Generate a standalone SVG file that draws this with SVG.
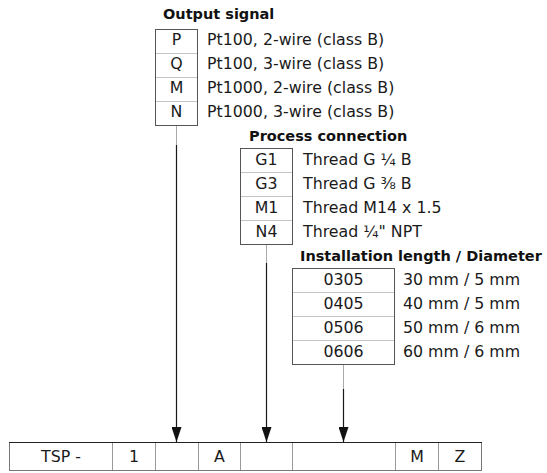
<svg xmlns="http://www.w3.org/2000/svg" width="547" height="473" viewBox="0 0 547 473">
<style>
.t{font-family:"DejaVu Sans","Liberation Sans",sans-serif;font-size:15.8px;fill:#1a1a1a}
.c{text-anchor:middle}
.h{font-family:"DejaVu Sans","Liberation Sans",sans-serif;font-size:14.5px;font-weight:bold;fill:#111}
.box{fill:#fff;stroke:#555;stroke-width:1}
.div{stroke:#c4c4c4;stroke-width:1}
.cell{stroke:#999;stroke-width:1}
.conn{stroke:#1a1a1a;stroke-width:1.2;fill:none}
.connl{stroke:#aaa;stroke-width:1;fill:none}
</style>
<defs>
<marker id="ah" markerWidth="15" markerHeight="10" refX="15" refY="5" orient="auto" markerUnits="userSpaceOnUse" viewBox="0 0 15 10">
<path d="M0,0 L15,5 L0,10 Z" fill="#111"/>
</marker>
</defs>
<rect width="547" height="473" fill="#fff"/>

<g id="output-signal">
<text class="h" x="163" y="19">Output signal</text>
<rect class="box" x="155.5" y="29.5" width="42" height="96"/>
<line class="div" x1="156" y1="53.5" x2="197" y2="53.5"/>
<line class="div" x1="156" y1="77.5" x2="197" y2="77.5"/>
<line class="div" x1="156" y1="101.5" x2="197" y2="101.5"/>
<text class="t c" x="176.5" y="45">P</text>
<text class="t c" x="176.5" y="69">Q</text>
<text class="t c" x="176.5" y="93">M</text>
<text class="t c" x="176.5" y="117">N</text>
<text class="t" x="207" y="45">Pt100, 2-wire (class B)</text>
<text class="t" x="207" y="69">Pt100, 3-wire (class B)</text>
<text class="t" x="207" y="93">Pt1000, 2-wire (class B)</text>
<text class="t" x="207" y="117">Pt1000, 3-wire (class B)</text>
</g>

<g id="process-connection">
<text class="h" x="249" y="140.5">Process connection</text>
<rect class="box" x="240.5" y="148.5" width="52" height="96"/>
<line class="div" x1="241" y1="172.5" x2="292" y2="172.5"/>
<line class="div" x1="241" y1="196.5" x2="292" y2="196.5"/>
<line class="div" x1="241" y1="220.5" x2="292" y2="220.5"/>
<text class="t c" x="266.5" y="164.5">G1</text>
<text class="t c" x="266.5" y="188.5">G3</text>
<text class="t c" x="266.5" y="212.5">M1</text>
<text class="t c" x="266.5" y="236.5">N4</text>
<text class="t" x="303" y="164.5">Thread G ¼ B</text>
<text class="t" x="303" y="188.5">Thread G ⅜ B</text>
<text class="t" x="303" y="212.5">Thread M14 x 1.5</text>
<text class="t" x="303" y="236.5">Thread ¼" NPT</text>
</g>

<g id="installation-length">
<text class="h" x="300" y="260.5">Installation length / Diameter</text>
<rect class="box" x="292.5" y="268.5" width="102" height="96"/>
<line class="div" x1="293" y1="292.5" x2="394" y2="292.5"/>
<line class="div" x1="293" y1="316.5" x2="394" y2="316.5"/>
<line class="div" x1="293" y1="340.5" x2="394" y2="340.5"/>
<text class="t c" x="343.5" y="285">0305</text>
<text class="t c" x="343.5" y="309">0405</text>
<text class="t c" x="343.5" y="333">0506</text>
<text class="t c" x="343.5" y="357">0606</text>
<text class="t" x="403" y="285">30 mm / 5 mm</text>
<text class="t" x="403" y="309">40 mm / 5 mm</text>
<text class="t" x="403" y="333">50 mm / 6 mm</text>
<text class="t" x="403" y="357">60 mm / 6 mm</text>
</g>

<g id="type-code">
<rect x="9.5" y="442.5" width="472" height="28" fill="#fff" stroke="#777" stroke-width="1"/>
<line x1="9" y1="442.5" x2="482" y2="442.5" stroke="#222" stroke-width="1.2"/>
<line class="cell" x1="112.5" y1="443" x2="112.5" y2="470"/>
<line class="cell" x1="155.5" y1="443" x2="155.5" y2="470"/>
<line class="cell" x1="198.5" y1="443" x2="198.5" y2="470"/>
<line class="cell" x1="240.5" y1="443" x2="240.5" y2="470"/>
<line class="cell" x1="292.5" y1="443" x2="292.5" y2="470"/>
<line class="cell" x1="395.5" y1="443" x2="395.5" y2="470"/>
<line class="cell" x1="438.5" y1="443" x2="438.5" y2="470"/>
<text class="t c" x="61" y="462">TSP -</text>
<text class="t c" x="134" y="462">1</text>
<text class="t c" x="219.5" y="462">A</text>
<text class="t c" x="417" y="462">M</text>
<text class="t c" x="460" y="462">Z</text>
</g>

<g id="connectors">
<line class="connl" x1="176.5" y1="126" x2="176.5" y2="145"/>
<line class="conn" x1="176.5" y1="145" x2="176.5" y2="442" marker-end="url(#ah)"/>
<line class="connl" x1="266.5" y1="245" x2="266.5" y2="263"/>
<line class="conn" x1="266.5" y1="263" x2="266.5" y2="442" marker-end="url(#ah)"/>
<line class="connl" x1="343.5" y1="365" x2="343.5" y2="389"/>
<line class="conn" x1="343.5" y1="389" x2="343.5" y2="442" marker-end="url(#ah)"/>
</g>
</svg>
